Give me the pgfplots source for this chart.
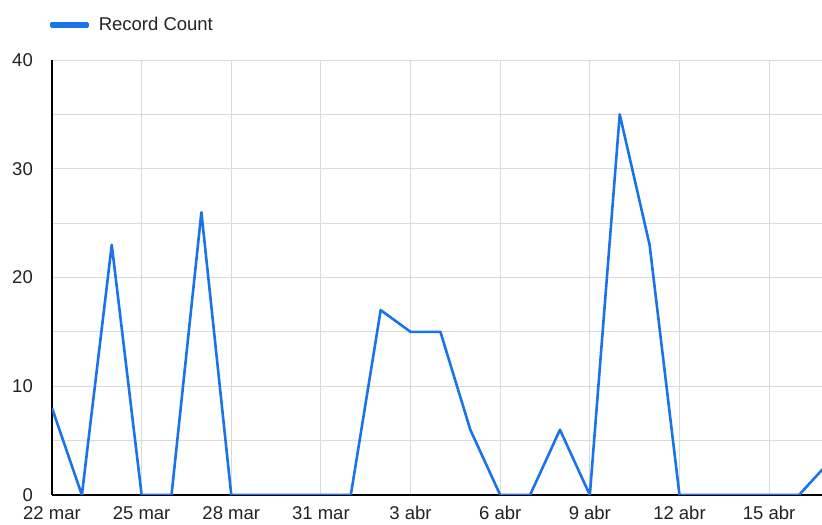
\documentclass[border=0pt]{standalone}
\usepackage{fontspec}
\setmainfont{Liberation Sans}
\usepackage{pgfplots}
\pgfplotsset{compat=1.18}
\definecolor{lineblue}{RGB}{26,115,232}
\definecolor{gridgray}{RGB}{218,218,218}
\definecolor{txt}{RGB}{34,34,34}
\begin{document}
\begin{tikzpicture}
\path[use as bounding box] (-52bp,-30bp) rectangle (770bp,495bp);
\begin{axis}[
  scale only axis,
  width=770bp, height=435bp,
  at={(0,0)}, anchor=south west,
  xmin=0, xmax=25.77, ymin=0, ymax=40,
  axis x line*=bottom, axis y line*=left,
  axis line style={black, line width=1.2pt, -},
  xtick={0,3,...,24},
  xticklabels={22 mar,25 mar,28 mar,31 mar,3 abr,6 abr,9 abr,12 abr,15 abr},
  ytick={0,10,20,30,40},
  minor ytick={5,15,25,35},
  grid=both,
  major grid style={gridgray, line width=1pt},
  minor grid style={gridgray, line width=1pt},
  major tick length=0pt, minor tick length=0pt,
  tick label style={font=\fontsize{18.5bp}{22bp}\selectfont, text=txt},
  /pgf/number format/assume math mode=true,
  xticklabel style={anchor=north, inner sep=0pt, yshift=-11bp},
  yticklabel style={anchor=east, inner sep=0pt, xshift=-19bp},
  legend style={draw=none, fill=none, at={(0,1)}, anchor=west, yshift=35bp, xshift=-2bp,
    font=\fontsize{18.5bp}{22bp}\selectfont, text=txt, inner sep=0pt},
  legend image code/.code={\fill[lineblue] (0bp,-1.4bp) rectangle (36bp,1.4bp); \path (44bp,0bp);},
  clip=true,
]
\addplot[lineblue, line width=2.6pt, line join=round] coordinates {
(0,8) (1,0) (2,23) (3,0) (4,0) (5,26) (6,0) (7,0) (8,0) (9,0) (10,0)
(11,17) (12,15) (13,15) (14,6) (15,0) (16,0) (17,6) (18,0) (19,35)
(20,23) (21,0) (22,0) (23,0) (24,0) (25,0) (26,3)
};
\addlegendentry{Record Count}
\end{axis}
\end{tikzpicture}
\end{document}
